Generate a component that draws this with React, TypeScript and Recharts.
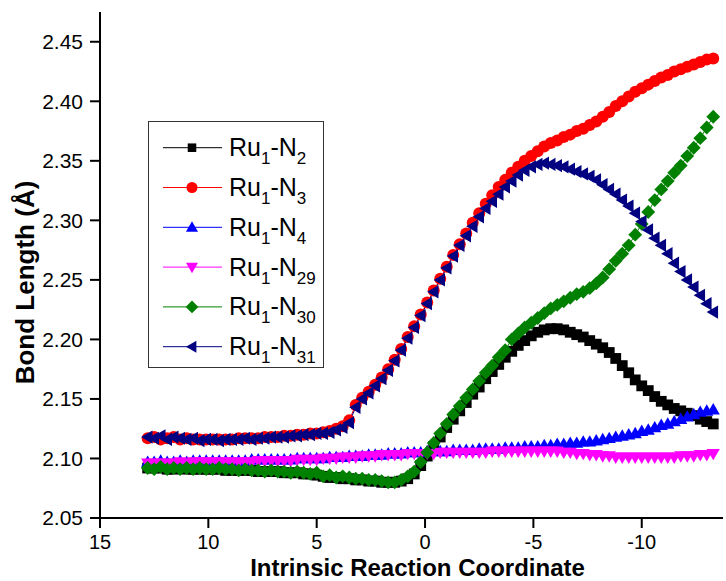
import React from 'react';
import { LineChart, Line, XAxis, YAxis, Legend, Label } from 'recharts';

const X_VALUES = [
  12.8, 12.5, 12.2, 11.9, 11.6, 11.3, 11.0, 10.7, 10.4, 10.1,
  9.8, 9.5, 9.2, 8.9, 8.6, 8.3, 8.0, 7.7, 7.4, 7.1,
  6.8, 6.5, 6.2, 5.9, 5.6, 5.3, 5.0, 4.7, 4.4, 4.1,
  3.8, 3.5, 3.2, 2.9, 2.6, 2.3, 2.0, 1.7, 1.4, 1.1,
  0.8, 0.5, 0.2, -0.1, -0.4, -0.7, -1.0, -1.3, -1.6, -1.9,
  -2.2, -2.5, -2.8, -3.1, -3.4, -3.7, -4.0, -4.3, -4.6, -4.9,
  -5.2, -5.5, -5.8, -6.1, -6.4, -6.7, -7.0, -7.3, -7.6, -7.9,
  -8.2, -8.5, -8.8, -9.1, -9.4, -9.7, -10.0, -10.3, -10.6, -10.9,
  -11.2, -11.5, -11.8, -12.1, -12.4, -12.7, -13.0, -13.3,
];

const RU_N2 = [
  2.092, 2.092, 2.092, 2.091, 2.091, 2.092, 2.091, 2.091, 2.091, 2.091,
  2.091, 2.091, 2.090, 2.090, 2.090, 2.090, 2.090, 2.089, 2.089, 2.089,
  2.089, 2.088, 2.088, 2.088, 2.087, 2.087, 2.086, 2.085, 2.084, 2.084,
  2.083, 2.083, 2.082, 2.082, 2.081, 2.081, 2.080, 2.080, 2.080, 2.081,
  2.083, 2.087, 2.094, 2.102, 2.110, 2.118, 2.126, 2.133, 2.140, 2.147,
  2.154, 2.160, 2.167, 2.173, 2.179, 2.185, 2.190, 2.195, 2.199, 2.203,
  2.206, 2.208, 2.209, 2.209, 2.208, 2.206, 2.204, 2.202, 2.199, 2.196,
  2.193, 2.189, 2.184, 2.178, 2.172, 2.166, 2.161, 2.157, 2.152, 2.148,
  2.145, 2.142, 2.140, 2.138, 2.136, 2.133, 2.131, 2.129,
];

const RU_N3 = [
  2.117, 2.118, 2.116, 2.117, 2.118, 2.116, 2.117, 2.116, 2.116, 2.116,
  2.116, 2.116, 2.116, 2.116, 2.117, 2.117, 2.117, 2.117, 2.118, 2.118,
  2.118, 2.119, 2.119, 2.120, 2.120, 2.121, 2.121, 2.122, 2.123, 2.125,
  2.127, 2.132, 2.145, 2.151, 2.156, 2.162, 2.168, 2.175, 2.183, 2.192,
  2.202, 2.211, 2.221, 2.231, 2.241, 2.251, 2.261, 2.271, 2.280, 2.289,
  2.298, 2.306, 2.314, 2.321, 2.328, 2.334, 2.340, 2.345, 2.350, 2.354,
  2.358, 2.362, 2.365, 2.367, 2.370, 2.372, 2.375, 2.377, 2.380, 2.383,
  2.387, 2.391, 2.396, 2.400, 2.404, 2.408, 2.411, 2.414, 2.417, 2.420,
  2.422, 2.425, 2.427, 2.429, 2.431, 2.433, 2.435, 2.436,
];

const RU_N4 = [
  2.097, 2.097, 2.098, 2.097, 2.097, 2.098, 2.097, 2.098, 2.098, 2.098,
  2.098, 2.098, 2.098, 2.098, 2.098, 2.098, 2.099, 2.099, 2.099, 2.099,
  2.099, 2.099, 2.099, 2.100, 2.100, 2.100, 2.100, 2.100, 2.101, 2.101,
  2.101, 2.102, 2.102, 2.102, 2.103, 2.103, 2.103, 2.104, 2.104, 2.104,
  2.105, 2.105, 2.105, 2.106, 2.106, 2.106, 2.106, 2.107, 2.107, 2.107,
  2.107, 2.108, 2.108, 2.108, 2.108, 2.109, 2.109, 2.109, 2.110, 2.110,
  2.110, 2.111, 2.111, 2.112, 2.112, 2.113, 2.113, 2.114, 2.114, 2.115,
  2.116, 2.117, 2.118, 2.119, 2.120, 2.121, 2.123, 2.124, 2.126, 2.128,
  2.129, 2.131, 2.133, 2.135, 2.137, 2.139, 2.140, 2.141,
];

const RU_N29 = [
  2.096, 2.096, 2.096, 2.096, 2.096, 2.097, 2.096, 2.097, 2.097, 2.097,
  2.097, 2.097, 2.097, 2.097, 2.097, 2.097, 2.097, 2.098, 2.098, 2.098,
  2.098, 2.098, 2.098, 2.099, 2.099, 2.099, 2.099, 2.100, 2.100, 2.100,
  2.101, 2.101, 2.101, 2.102, 2.102, 2.102, 2.103, 2.103, 2.103, 2.103,
  2.104, 2.104, 2.104, 2.104, 2.104, 2.105, 2.105, 2.105, 2.105, 2.105,
  2.105, 2.105, 2.105, 2.106, 2.106, 2.106, 2.106, 2.106, 2.106, 2.106,
  2.106, 2.106, 2.106, 2.106, 2.105, 2.105, 2.104, 2.104, 2.103, 2.103,
  2.102, 2.102, 2.101, 2.101, 2.101, 2.101, 2.101, 2.101, 2.101, 2.101,
  2.101, 2.101, 2.102, 2.102, 2.102, 2.103, 2.103, 2.104,
];

const RU_N30 = [
  2.092, 2.091, 2.093, 2.091, 2.092, 2.091, 2.092, 2.091, 2.092, 2.091,
  2.091, 2.092, 2.091, 2.091, 2.090, 2.091, 2.090, 2.090, 2.089, 2.090,
  2.089, 2.089, 2.088, 2.089, 2.088, 2.087, 2.088, 2.085, 2.086, 2.084,
  2.085, 2.084, 2.083, 2.083, 2.082, 2.082, 2.081, 2.080, 2.080, 2.082,
  2.085, 2.089, 2.097, 2.105, 2.113, 2.121, 2.129, 2.137, 2.144, 2.151,
  2.158, 2.165, 2.172, 2.178, 2.185, 2.191, 2.200, 2.205, 2.210, 2.214,
  2.218, 2.222, 2.226, 2.229, 2.232, 2.235, 2.238, 2.240, 2.243, 2.247,
  2.252, 2.259, 2.266, 2.272, 2.279, 2.288, 2.297, 2.307, 2.317, 2.326,
  2.333, 2.340, 2.346, 2.354, 2.361, 2.369, 2.378, 2.387,
];

const RU_N31 = [
  2.118, 2.117, 2.119, 2.116, 2.118, 2.117, 2.116, 2.117, 2.115, 2.116,
  2.116, 2.115, 2.116, 2.116, 2.116, 2.117, 2.116, 2.117, 2.117, 2.118,
  2.118, 2.118, 2.119, 2.119, 2.120, 2.120, 2.121, 2.121, 2.122, 2.124,
  2.126, 2.130, 2.143, 2.150, 2.155, 2.161, 2.167, 2.174, 2.182, 2.191,
  2.201, 2.210, 2.220, 2.230, 2.240, 2.250, 2.260, 2.270, 2.279, 2.287,
  2.295, 2.303, 2.310, 2.316, 2.322, 2.328, 2.333, 2.338, 2.342, 2.345,
  2.347, 2.348, 2.347, 2.346, 2.345, 2.343, 2.341, 2.339, 2.337, 2.334,
  2.330, 2.326, 2.322, 2.317, 2.312, 2.306, 2.299, 2.292, 2.285, 2.279,
  2.272, 2.264, 2.257, 2.250, 2.244, 2.237, 2.230, 2.223,
];

const X_TICKS = [15, 10, 5, 0, -5, -10];
const Y_TICKS = [2.05, 2.1, 2.15, 2.2, 2.25, 2.3, 2.35, 2.4, 2.45];

const SERIES = [
  { key: 'n2', sub: '2', color: '#000000', shape: 'square' },
  { key: 'n3', sub: '3', color: '#ff0000', shape: 'circle' },
  { key: 'n4', sub: '4', color: '#0000ff', shape: 'up' },
  { key: 'n29', sub: '29', color: '#ff00ff', shape: 'down' },
  { key: 'n30', sub: '30', color: '#008000', shape: 'diamond' },
  { key: 'n31', sub: '31', color: '#000080', shape: 'left' },
];

const data = X_VALUES.map((x, i) => ({
  x,
  n2: RU_N2[i],
  n3: RU_N3[i],
  n4: RU_N4[i],
  n29: RU_N29[i],
  n30: RU_N30[i],
  n31: RU_N31[i],
}));

const FONT = '"Liberation Sans", Arial, Helvetica, sans-serif';

function marker(shape: string, cx: number, cy: number, color: string, s: number, key?: string) {
  const h = s / 2;
  switch (shape) {
    case 'square':
      return <rect key={key} x={cx - h * 0.9} y={cy - h * 0.9} width={s * 0.9} height={s * 0.9} fill={color} />;
    case 'circle':
      return <circle key={key} cx={cx} cy={cy} r={h} fill={color} />;
    case 'up':
      return <polygon key={key} points={`${cx},${cy - h * 1.1} ${cx + h * 1.1},${cy + h * 0.8} ${cx - h * 1.1},${cy + h * 0.8}`} fill={color} />;
    case 'down':
      return <polygon key={key} points={`${cx - h * 1.1},${cy - h * 0.8} ${cx + h * 1.1},${cy - h * 0.8} ${cx},${cy + h * 1.1}`} fill={color} />;
    case 'diamond':
      return <polygon key={key} points={`${cx},${cy - h * 1.15} ${cx + h * 1.15},${cy} ${cx},${cy + h * 1.15} ${cx - h * 1.15},${cy}`} fill={color} />;
    case 'left':
    default:
      return <polygon key={key} points={`${cx - h * 1.1},${cy} ${cx + h * 0.8},${cy - h * 1.1} ${cx + h * 0.8},${cy + h * 1.1}`} fill={color} />;
  }
}

const renderLegend = () => (
  <svg width={176} height={247} style={{ display: 'block' }}>
    <rect x={0.5} y={0.5} width={175} height={246} fill="#ffffff" stroke="#333333" strokeWidth={1} />
    {SERIES.map((s, i) => {
      const cy = 26.7 + i * 39.8;
      return (
        <g key={s.key}>
          <line x1={15} x2={74} y1={cy} y2={cy} stroke={s.color} strokeWidth={1} />
          {marker(s.shape, 44, cy, s.color, s.shape === 'square' ? 9.5 : 11)}
          <text x={81} y={cy + 8.5} fontSize={25} fontFamily={FONT} fill="#000">
            Ru
            <tspan fontSize={17} dy={8}>1</tspan>
            <tspan fontSize={25} dy={-8}>-N</tspan>
            <tspan fontSize={17} dy={8}>{s.sub}</tspan>
          </text>
        </g>
      );
    })}
  </svg>
);

export default function App() {
  return (
    <div style={{ position: 'absolute', left: 0, top: 0, width: 726, height: 581, background: '#fff' }}>
      <LineChart
        width={726}
        height={581}
        data={data}
        margin={{ top: 12, right: 3, bottom: 0, left: 0 }}
        style={{ fontFamily: FONT }}
      >
        <XAxis
          dataKey="x"
          type="number"
          domain={[-13.75, 15]}
          reversed
          ticks={X_TICKS}
          allowDataOverflow
          height={63}
          tickSize={10}
          tickMargin={7}
          axisLine={{ stroke: '#000', strokeWidth: 2 }}
          tickLine={{ stroke: '#000', strokeWidth: 2 }}
          tick={{ fill: '#000', fontSize: 20, fontFamily: FONT }}
          interval={0}
        >
          <Label
            content={() => (
              <text x={417.5} y={575.5} textAnchor="middle" fontSize={24} fontWeight="bold" fontFamily={FONT} fill="#000">
                Intrinsic Reaction Coordinate
              </text>
            )}
          />
        </XAxis>
        <YAxis
          type="number"
          domain={[2.05, 2.475]}
          ticks={Y_TICKS}
          allowDataOverflow
          width={100}
          tickSize={10}
          tickMargin={7}
          axisLine={{ stroke: '#000', strokeWidth: 2 }}
          tickLine={{ stroke: '#000', strokeWidth: 2 }}
          tick={{ fill: '#000', fontSize: 21, fontFamily: FONT }}
          tickFormatter={(v: number) => v.toFixed(2)}
          interval={0}
        >
          <Label
            content={() => (
              <text
                x={34}
                y={282.5}
                transform="rotate(-90, 34, 282.5)"
                textAnchor="middle"
                fontSize={26}
                fontWeight="bold"
                fontFamily={FONT}
                fill="#000"
              >
                Bond Length (Å)
              </text>
            )}
          />
        </YAxis>
        <Legend
          layout="vertical"
          align="center"
          verticalAlign="middle"
          content={renderLegend}
          wrapperStyle={{ left: 148, top: 121, width: 176, height: 247 }}
        />
        {SERIES.map((s) => (
          <Line
            key={s.key}
            dataKey={s.key}
            type="linear"
            stroke={s.color}
            strokeWidth={1}
            isAnimationActive={false}
            activeDot={false}
            dot={(p: any) =>
              p.cx == null || p.cy == null
                ? <g key={`${s.key}-${p.index}`} />
                : marker(s.shape, p.cx, p.cy, s.color, 12, `${s.key}-${p.index}`)
            }
          />
        ))}
      </LineChart>
    </div>
  );
}
